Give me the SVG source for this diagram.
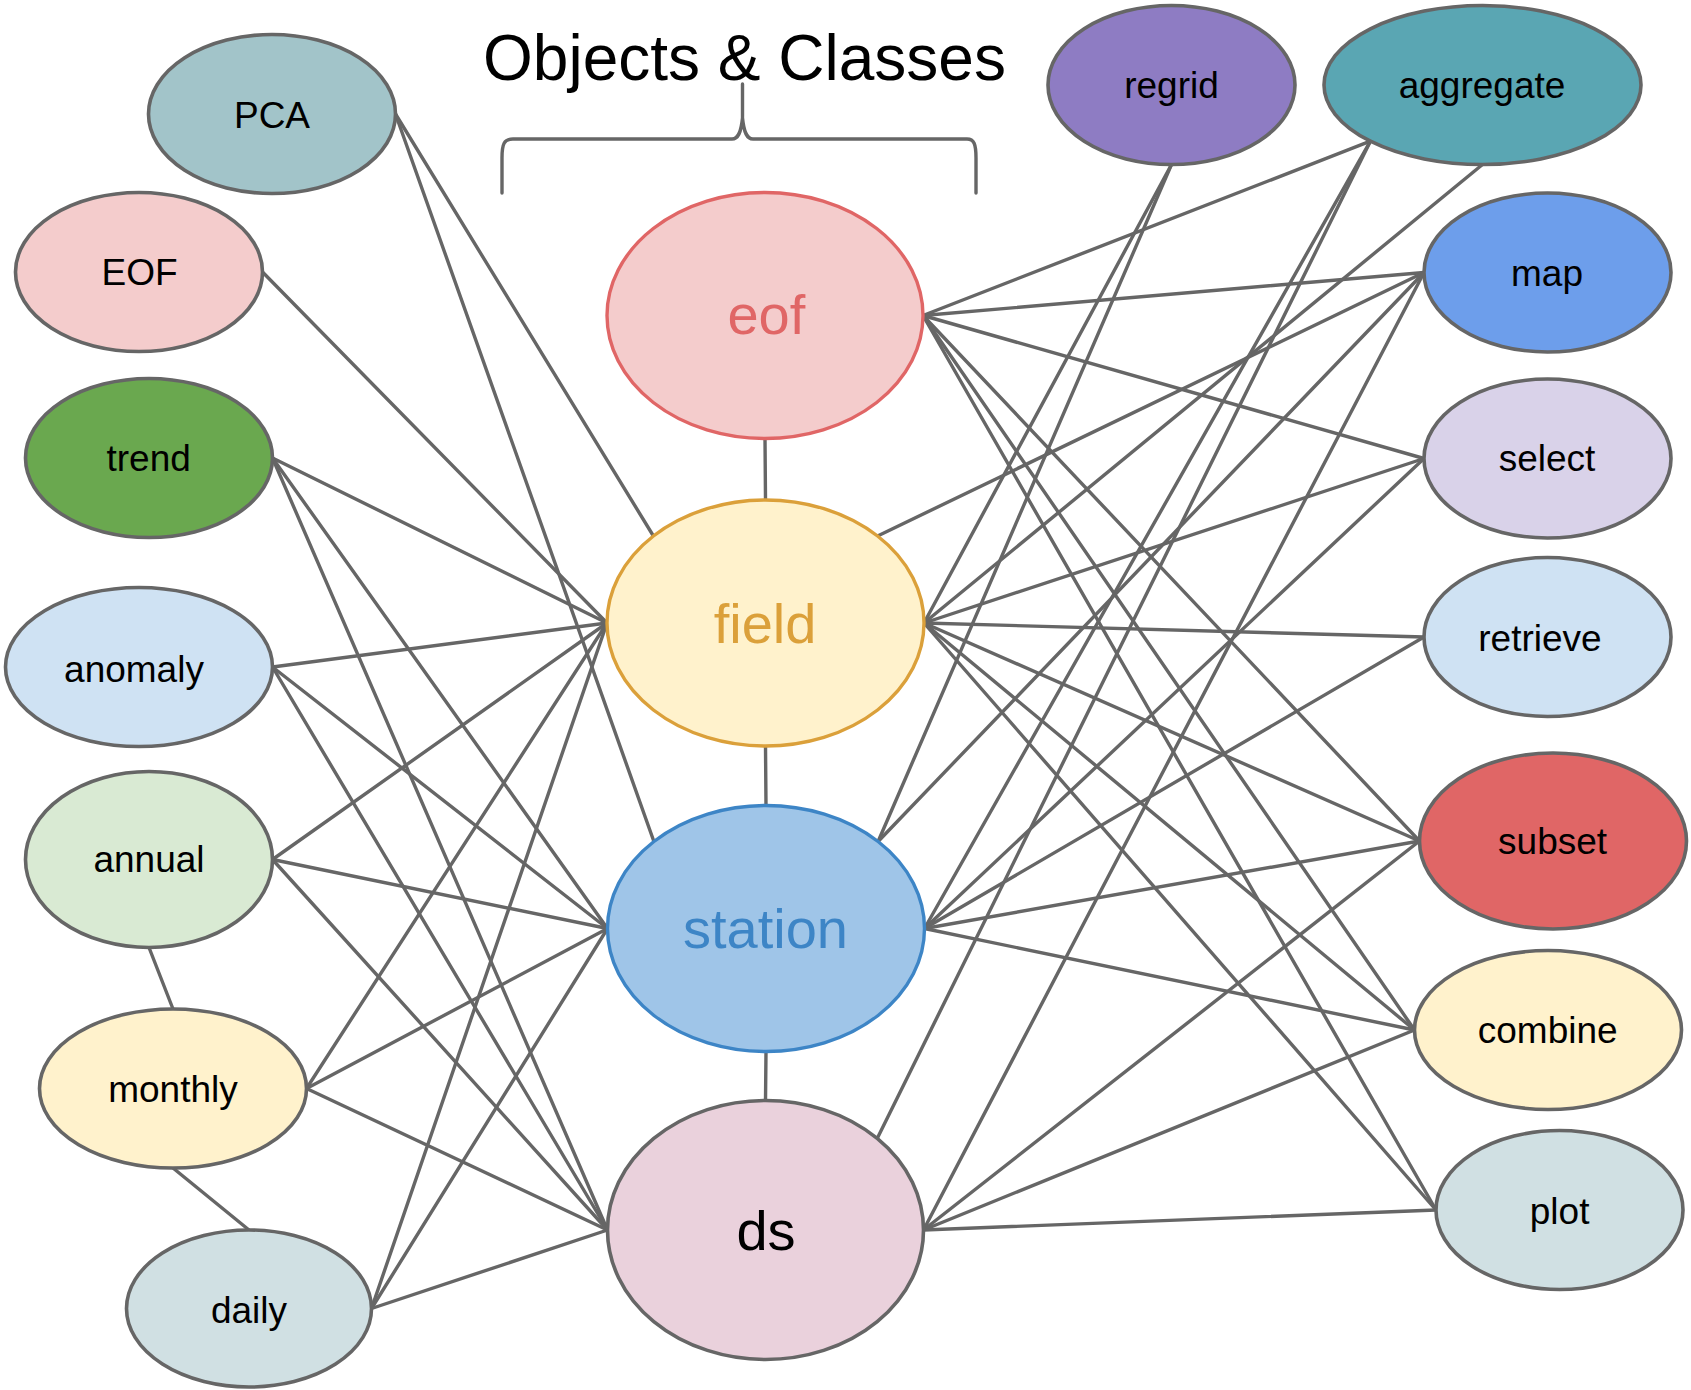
<svg xmlns="http://www.w3.org/2000/svg" width="1691" height="1390" viewBox="0 0 1691 1390">
<style>
.n{stroke:#666666;stroke-width:3.6}
.c line,.c path{stroke:#666666;stroke-width:3.4;fill:none;stroke-linecap:round}
.t{font-family:"Liberation Sans",Arial,sans-serif;font-size:37px;fill:#000;text-anchor:middle}
.b{font-family:"Liberation Sans",Arial,sans-serif;font-size:56px;text-anchor:middle}
</style>
<rect width="1691" height="1390" fill="#ffffff"/>
<text x="744.5" y="80" font-family="Liberation Sans, Arial, sans-serif" font-size="64" text-anchor="middle" fill="#000">Objects &amp; Classes</text>
<g class="c" id="connectors">
<path id="bracket" d="M502,193 L502,158 C502,144 504,139 513,139 L732,139 C738,139 741,133 742.5,118 L742.5,84 M742.5,118 C744,133 747,139 753,139 L967,139 C974,139 976,144 976,158 L976,193"/>
<line x1="765" y1="438.5" x2="765.5" y2="500"/>
<line x1="765.5" y1="746" x2="766" y2="805.5"/>
<line x1="766" y1="1051.5" x2="765.5" y2="1100.5"/>
<line x1="395.5" y1="114" x2="653.4" y2="536"/>
<line x1="395.5" y1="114" x2="653.9" y2="841.5"/>
<line x1="262.5" y1="272" x2="607" y2="623"/>
<line x1="272.5" y1="458" x2="607" y2="623"/>
<line x1="272.5" y1="458" x2="607.5" y2="928.5"/>
<line x1="272.5" y1="458" x2="607.5" y2="1230"/>
<line x1="272.5" y1="667" x2="607" y2="623"/>
<line x1="272.5" y1="667" x2="607.5" y2="928.5"/>
<line x1="272.5" y1="667" x2="607.5" y2="1230"/>
<line x1="272.5" y1="859.5" x2="607" y2="623"/>
<line x1="272.5" y1="859.5" x2="607.5" y2="928.5"/>
<line x1="272.5" y1="859.5" x2="607.5" y2="1230"/>
<line x1="306.5" y1="1088.5" x2="607" y2="623"/>
<line x1="306.5" y1="1088.5" x2="607.5" y2="928.5"/>
<line x1="306.5" y1="1088.5" x2="607.5" y2="1230"/>
<line x1="371.5" y1="1308.5" x2="607" y2="623"/>
<line x1="371.5" y1="1308.5" x2="607.5" y2="928.5"/>
<line x1="371.5" y1="1308.5" x2="607.5" y2="1230"/>
<line x1="149" y1="947.5" x2="173" y2="1009"/>
<line x1="173" y1="1168" x2="249" y2="1230"/>
<line x1="923" y1="315.5" x2="1370.4" y2="141.2"/>
<line x1="923" y1="315.5" x2="1424" y2="272.5"/>
<line x1="923" y1="315.5" x2="1424" y2="458.5"/>
<line x1="923" y1="315.5" x2="1419.5" y2="841"/>
<line x1="923" y1="315.5" x2="1414.5" y2="1030"/>
<line x1="923" y1="315.5" x2="1436" y2="1210"/>
<line x1="877.6" y1="536" x2="1424" y2="272.5"/>
<line x1="924" y1="623" x2="1171.5" y2="164.5"/>
<line x1="924" y1="623" x2="1482.5" y2="164.5"/>
<line x1="924" y1="623" x2="1424" y2="458.5"/>
<line x1="924" y1="623" x2="1424" y2="637"/>
<line x1="924" y1="623" x2="1419.5" y2="841"/>
<line x1="924" y1="623" x2="1414.5" y2="1030"/>
<line x1="924" y1="623" x2="1436" y2="1210"/>
<line x1="878.1" y1="841.5" x2="1171.5" y2="164.5"/>
<line x1="878.1" y1="841.5" x2="1424" y2="272.5"/>
<line x1="924.5" y1="928.5" x2="1370.4" y2="141.2"/>
<line x1="924.5" y1="928.5" x2="1424" y2="458.5"/>
<line x1="924.5" y1="928.5" x2="1424" y2="637"/>
<line x1="924.5" y1="928.5" x2="1419.5" y2="841"/>
<line x1="924.5" y1="928.5" x2="1414.5" y2="1030"/>
<line x1="877.2" y1="1138.4" x2="1370.4" y2="141.2"/>
<line x1="923.5" y1="1230" x2="1424" y2="272.5"/>
<line x1="923.5" y1="1230" x2="1419.5" y2="841"/>
<line x1="923.5" y1="1230" x2="1414.5" y2="1030"/>
<line x1="923.5" y1="1230" x2="1436" y2="1210"/>
</g>
<g id="PCA"><ellipse class="n" cx="272" cy="114" rx="123.5" ry="79.5" fill="#a2c4c9"/><text class="t" x="272" y="127.5">PCA</text></g>
<g id="EOF"><ellipse class="n" cx="139" cy="272" rx="123.5" ry="79.5" fill="#f4cccc"/><text class="t" x="139.5" y="285">EOF</text></g>
<g id="trend"><ellipse class="n" cx="149" cy="458" rx="123.5" ry="79.5" fill="#6aa84f"/><text class="t" x="148.7" y="470.7">trend</text></g>
<g id="anomaly"><ellipse class="n" cx="139" cy="667" rx="133.5" ry="79.5" fill="#cfe2f3"/><text class="t" x="134" y="682">anomaly</text></g>
<g id="annual"><ellipse class="n" cx="149" cy="859.5" rx="123.5" ry="88" fill="#d9ead3"/><text class="t" x="149" y="871.7">annual</text></g>
<g id="monthly"><ellipse class="n" cx="173" cy="1088.5" rx="133.5" ry="79.5" fill="#fff2cc"/><text class="t" x="173" y="1102">monthly</text></g>
<g id="daily"><ellipse class="n" cx="249" cy="1308.5" rx="122.5" ry="78.5" fill="#d0e0e3"/><text class="t" x="249" y="1323">daily</text></g>
<g id="eof"><ellipse cx="765" cy="315.5" rx="158" ry="123" fill="#f4cccc" stroke="#e06666" stroke-width="3.4"/><text class="b" x="766.4" y="334" fill="#e06666">eof</text></g>
<g id="field"><ellipse cx="765.5" cy="623" rx="158.5" ry="123" fill="#fff2cc" stroke="#dba03a" stroke-width="3.4"/><text class="b" x="765" y="643" fill="#dba03a">field</text></g>
<g id="station"><ellipse cx="766" cy="928.5" rx="158.5" ry="123" fill="#9fc5e8" stroke="#3d85c6" stroke-width="3.4"/><text class="b" x="765.5" y="948" fill="#3d85c6">station</text></g>
<g id="ds"><ellipse class="n" cx="765.5" cy="1230" rx="158" ry="129.5" fill="#ead1dc"/><text class="b" x="766" y="1249.7" fill="#000">ds</text></g>
<g id="regrid"><ellipse class="n" cx="1171.5" cy="85" rx="123.5" ry="79.5" fill="#8e7cc3"/><text class="t" x="1171.5" y="98">regrid</text></g>
<g id="aggregate"><ellipse class="n" cx="1482.5" cy="85" rx="158.5" ry="79.5" fill="#5aa6b3"/><text class="t" x="1482" y="98">aggregate</text></g>
<g id="map"><ellipse class="n" cx="1547.5" cy="272.5" rx="123.5" ry="79.5" fill="#6d9eeb"/><text class="t" x="1547" y="285.7">map</text></g>
<g id="select"><ellipse class="n" cx="1547.5" cy="458.5" rx="123.5" ry="79.5" fill="#d9d2e9"/><text class="t" x="1547" y="471.4">select</text></g>
<g id="retrieve"><ellipse class="n" cx="1547.5" cy="637" rx="123.5" ry="79.5" fill="#cfe2f3"/><text class="t" x="1540" y="651">retrieve</text></g>
<g id="subset"><ellipse class="n" cx="1553" cy="841" rx="133.5" ry="88" fill="#e06666"/><text class="t" x="1552.6" y="854.4">subset</text></g>
<g id="combine"><ellipse class="n" cx="1548" cy="1030" rx="133.5" ry="79.5" fill="#fff2cc"/><text class="t" x="1547.7" y="1043">combine</text></g>
<g id="plot"><ellipse class="n" cx="1559.5" cy="1210" rx="123.5" ry="79.5" fill="#d0e0e3"/><text class="t" x="1559.6" y="1224">plot</text></g>
</svg>
